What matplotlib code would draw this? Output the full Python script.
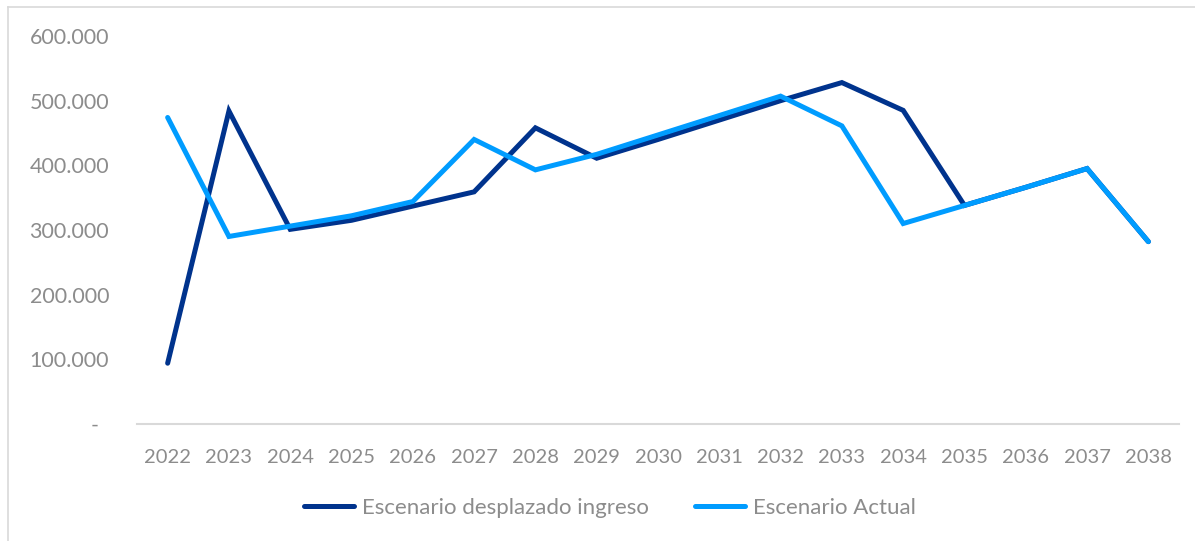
import numpy as np
import matplotlib
matplotlib.use('Agg')
import matplotlib.pyplot as plt
from matplotlib.lines import Line2D
from matplotlib.transforms import ScaledTranslation

# Data
years = [str(y) for y in range(2022, 2039)]
desplazado = [94000, 484000, 301000, 315000, 337000, 359000, 458000, 411000,
              440000, 470000, 500000, 528000, 485000, 338000, 366000, 395000, 282000]
actual = [474000, 290000, 306000, 322000, 344000, 440000, 393000, 417000,
          447000, 477000, 507000, 461000, 310000, 338000, 366000, 395000, 282000]
y_ticks = [0, 100000, 200000, 300000, 400000, 500000, 600000]
y_labels = ['-', '100.000', '200.000', '300.000', '400.000', '500.000', '600.000']

dark = '#00338D'
light = '#009CFF'
grey = '#8C8C8C'

plt.rcParams['font.family'] = ['Lato', 'DejaVu Sans']

fig = plt.figure(figsize=(11.95, 5.41), dpi=100)
W, H = 1195, 541
ax = fig.add_axes([137 / W, 1 - 424 / H, (1179 - 137) / W, (424 - 36) / H])

x = np.arange(len(years))
ax.plot(x, desplazado, color=dark, lw=3.6, solid_capstyle='round', solid_joinstyle='miter',
        label='Escenario desplazado ingreso')
ax.plot(x, actual, color=light, lw=3.6, solid_capstyle='round', solid_joinstyle='miter',
        label='Escenario Actual')

ax.set_xlim(-0.5, len(years) - 0.5)
ax.set_ylim(0, 600000)
ax.set_xticks(x)
ax.set_xticklabels(years)
ax.set_yticks(y_ticks)
ax.set_yticklabels(y_labels)
ax.tick_params(axis='both', length=0, labelcolor=grey)
ax.tick_params(axis='y', pad=20, labelsize=15.5)
ax.tick_params(axis='x', pad=18, labelsize=14.5)

# shift the "-" label to the left like the Excel accounting format
lbl0 = ax.get_yticklabels()[0]
lbl0.set_transform(lbl0.get_transform() + ScaledTranslation(-11 / 100, 0, fig.dpi_scale_trans))

for s in ['top', 'right', 'left']:
    ax.spines[s].set_visible(False)
ax.spines['bottom'].set_color('#D9D9D9')
ax.spines['bottom'].set_linewidth(1.5)

leg = fig.legend(loc='center', bbox_to_anchor=(610 / W, 1 - 508 / H), ncol=2, frameon=False,
                 fontsize=16, handlelength=2.25, handletextpad=0.36, columnspacing=2.1)
for t in leg.get_texts():
    t.set_color(grey)
for h in leg.legend_handles:
    h.set_linewidth(3.6)

# chart frame (top and left edges visible)
fig.add_artist(Line2D([8 / W, 1], [1 - 7 / H, 1 - 7 / H], color='#D9D9D9', lw=1.2))
fig.add_artist(Line2D([8 / W, 8 / W], [0, 1 - 7 / H], color='#D9D9D9', lw=1.2))

fig.savefig('out.png', dpi=100)
